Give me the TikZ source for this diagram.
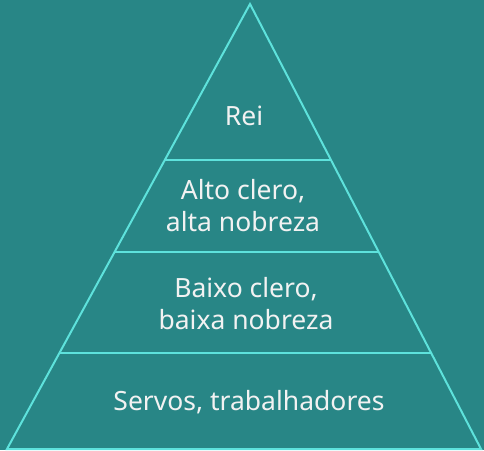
\documentclass[tikz,border=0pt]{standalone}
\usepackage{fontspec}
\setmainfont{Noto Sans}
\usetikzlibrary{calc}
\definecolor{tealbg}{HTML}{288686}
\definecolor{cyanline}{HTML}{5EE2DC}

\begin{document}
\begin{tikzpicture}[x=1pt, y=-1pt]
	\tikzstyle{level}=[text=white!95!black, align=center, font=\fontsize{26.5}{32}\selectfont, inner sep=0pt]
	\tikzstyle{edge}=[draw=cyanline, line width=2pt]
	
	% Background
	\fill[tealbg] (0,0) rectangle (484,450);
	
	% Corners of the pyramid
	\coordinate (top) at (250,4);
	\coordinate (bl) at (7,449);
	\coordinate (br) at (481,449);
	
	% Outline and the lines between the layers
	\path[edge] (top) -- (bl) -- (br) -- cycle;
	\foreach \t in {0.3506, 0.5573, 0.7843}
		\path[edge] ($(top)!\t!(bl)$) -- ($(top)!\t!(br)$);
	
	% Layer texts
	\node[level, anchor=base] (rei) at (244,125) {Rei};
	\node[level] (alto) at (243,206) {Alto clero,\\alta nobreza};
	\node[level] (baixo) at (246,304) {Baixo clero,\\baixa nobreza};
	\node[level, anchor=base] (servos) at (249,410) {Servos, trabalhadores};
\end{tikzpicture}
\end{document}
